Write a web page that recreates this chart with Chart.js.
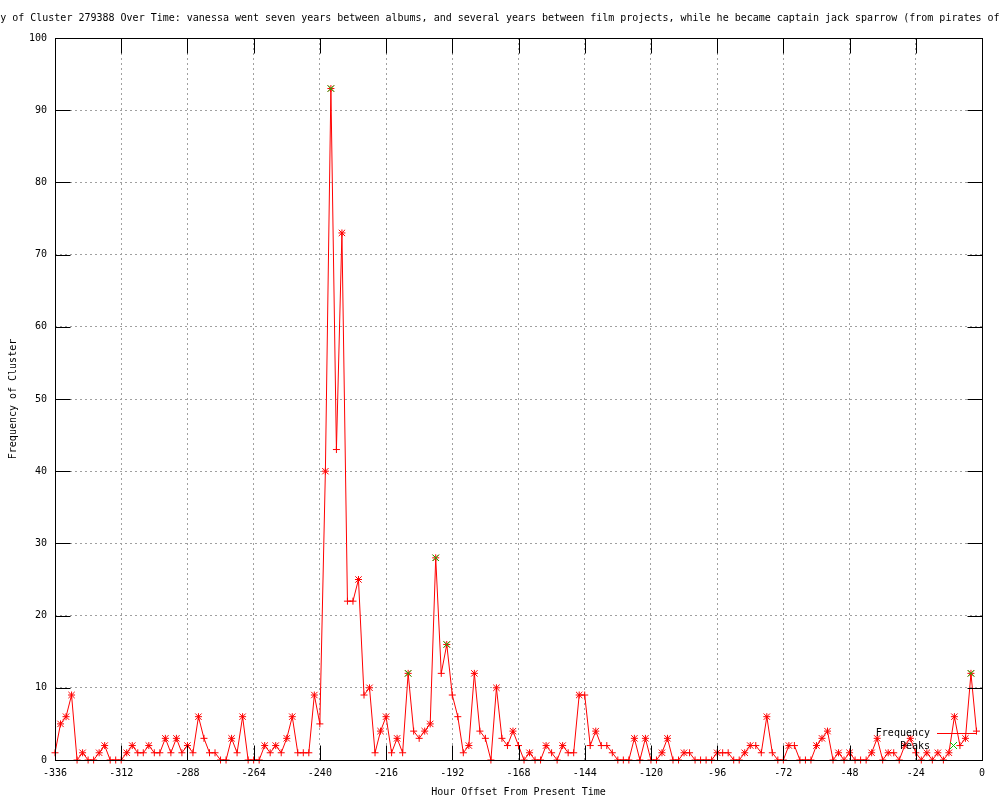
<!DOCTYPE html>
<html>
<head>
<meta charset="utf-8">
<script src="https://cdn.jsdelivr.net/npm/chart.js@4.4.0/dist/chart.umd.min.js"></script>
<style>
  html, body { margin: 0; padding: 0; background: #fff; }
</style>
</head>
<body>
<canvas id="chartContainer" width="1000" height="800"></canvas>
<script>
// Data: one value every 2 hours
const hours = [
  -336, -334, -332, -330, -328, -326, -324, -322, -320, -318, -316, -314,
  -312, -310, -308, -306, -304, -302, -300, -298, -296, -294, -292, -290,
  -288, -286, -284, -282, -280, -278, -276, -274, -272, -270, -268, -266,
  -264, -262, -260, -258, -256, -254, -252, -250, -248, -246, -244, -242,
  -240, -238, -236, -234, -232, -230, -228, -226, -224, -222, -220, -218,
  -216, -214, -212, -210, -208, -206, -204, -202, -200, -198, -196, -194,
  -192, -190, -188, -186, -184, -182, -180, -178, -176, -174, -172, -170,
  -168, -166, -164, -162, -160, -158, -156, -154, -152, -150, -148, -146,
  -144, -142, -140, -138, -136, -134, -132, -130, -128, -126, -124, -122,
  -120, -118, -116, -114, -112, -110, -108, -106, -104, -102, -100, -98,
  -96, -94, -92, -90, -88, -86, -84, -82, -80, -78, -76, -74,
  -72, -70, -68, -66, -64, -62, -60, -58, -56, -54, -52, -50,
  -48, -46, -44, -42, -40, -38, -36, -34, -32, -30, -28, -26,
  -24, -22, -20, -18, -16, -14, -12, -10, -8, -6, -4, -2
];
const frequency = [
  1, 5, 6, 9, 0, 1, 0, 0, 1, 2, 0, 0,
  0, 1, 2, 1, 1, 2, 1, 1, 3, 1, 3, 1,
  2, 1, 6, 3, 1, 1, 0, 0, 3, 1, 6, 0,
  0, 0, 2, 1, 2, 1, 3, 6, 1, 1, 1, 9,
  5, 40, 93, 43, 73, 22, 22, 25, 9, 10, 1, 4,
  6, 1, 3, 1, 12, 4, 3, 4, 5, 28, 12, 16,
  9, 6, 1, 2, 12, 4, 3, 0, 10, 3, 2, 4,
  2, 0, 1, 0, 0, 2, 1, 0, 2, 1, 1, 9,
  9, 2, 4, 2, 2, 1, 0, 0, 0, 3, 0, 3,
  0, 0, 1, 3, 0, 0, 1, 1, 0, 0, 0, 0,
  1, 1, 1, 0, 0, 1, 2, 2, 1, 6, 1, 0,
  0, 2, 2, 0, 0, 0, 2, 3, 4, 0, 1, 0,
  1, 0, 0, 0, 1, 3, 0, 1, 1, 0, 2, 3,
  1, 0, 1, 0, 1, 0, 1, 6, 2, 3, 12, 4
];
const peakHours = [-236, -208, -198, -194, -4];
const peakValues = [93, 12, 28, 16, 12];

const xTicks = [-336, -312, -288, -264, -240, -216, -192, -168, -144, -120, -96, -72, -48, -24, 0];
const yTicks = [0, 10, 20, 30, 40, 50, 60, 70, 80, 90, 100];

const titleText = 'Frequency of Cluster 279388 Over Time: vanessa went seven years between albums, and several years between film projects, while he became captain jack sparrow (from pirates of the caribbean)';
const FONT = 'DejaVu Sans Mono';

// points that rose from the previous hour get the extra diagonal stroke (a "*")
const risingPoints = [];
frequency.forEach((v, i) => {
    if (i > 0 && v > frequency[i - 1]) risingPoints.push({ x: hours[i], y: v });
});

// title, frame, inward ticks and key, gnuplot style
const gnuplotDecor = {
    id: 'gnuplotDecor',
    afterDraw(chart) {
        const ctx = chart.ctx;
        const a = chart.chartArea;
        const xs = chart.scales.x, ys = chart.scales.y;
        ctx.save();
        ctx.fillStyle = '#000';
        ctx.font = '10px "' + FONT + '"';
        ctx.textBaseline = 'middle';
        ctx.textAlign = 'left';
        ctx.fillText(titleText, -48, 18);

        ctx.strokeStyle = '#000';
        ctx.lineWidth = 1;
        const L = Math.round(a.left) + 0.5, R = Math.round(a.right) + 0.5;
        const T = Math.round(a.top) + 0.5, B = Math.round(a.bottom) + 0.5;
        ctx.strokeRect(L, T, R - L, B - T);
        const tl = 15;
        ctx.beginPath();
        xTicks.forEach(v => {
            const px = Math.round(xs.getPixelForValue(v)) + 0.5;
            ctx.moveTo(px, B); ctx.lineTo(px, B - tl);
            ctx.moveTo(px, T); ctx.lineTo(px, T + tl);
        });
        yTicks.forEach(v => {
            const py = Math.round(ys.getPixelForValue(v)) + 0.5;
            ctx.moveTo(L, py); ctx.lineTo(L + tl, py);
            ctx.moveTo(R, py); ctx.lineTo(R - tl, py);
        });
        ctx.stroke();

        // key
        ctx.textAlign = 'right';
        ctx.fillText('Frequency', 930, 733);
        ctx.fillText('Peaks', 930, 746);
        ctx.strokeStyle = '#ff0000';
        ctx.beginPath();
        ctx.moveTo(937, 733.5); ctx.lineTo(977, 733.5);
        ctx.stroke();
        ctx.strokeStyle = '#00c000';
        ctx.beginPath();
        ctx.moveTo(950, 742); ctx.lineTo(957, 749);
        ctx.moveTo(957, 742); ctx.lineTo(950, 749);
        ctx.stroke();
        ctx.restore();
    }
};

const ctx = document.getElementById('chartContainer').getContext('2d');
const chart = new Chart(ctx, {
    type: 'line',
    data: {
        datasets: [
            {
                label: 'Peaks',
                data: peakHours.map((h, i) => ({ x: h, y: peakValues[i] })),
                showLine: false,
                pointStyle: 'crossRot',
                pointRadius: 4.5,
                pointBorderColor: '#00c000',
                pointBorderWidth: 1,
                clip: false,
                order: 1
            },
            {
                label: 'rising',
                data: risingPoints,
                showLine: false,
                pointStyle: 'crossRot',
                pointRadius: 4.5,
                pointBorderColor: '#ff0000',
                pointBorderWidth: 1,
                clip: false,
                order: 2
            },
            {
                label: 'Frequency',
                data: hours.map((h, i) => ({ x: h, y: frequency[i] })),
                borderColor: '#ff0000',
                borderWidth: 1,
                tension: 0,
                pointStyle: 'cross',
                pointRadius: 3.5,
                pointBorderColor: '#ff0000',
                pointBorderWidth: 1,
                clip: false,
                order: 3
            }
        ]
    },
    options: {
        responsive: false,
        animation: false,
        layout: { padding: { left: 0, right: 18, top: 38, bottom: 0 } },
        plugins: {
            legend: { display: false },
            title: { display: false },
            tooltip: { enabled: false }
        },
        scales: {
            x: {
                type: 'linear',
                min: -336,
                max: 0,
                afterFit: s => { s.height = 40; },
                afterBuildTicks: s => { s.ticks = xTicks.map(v => ({ value: v })); },
                ticks: {
                    color: '#000',
                    font: { family: FONT, size: 10 },
                    padding: 7,
                    maxRotation: 0,
                    autoSkip: false,
                    callback: v => String(v)
                },
                grid: { color: '#a0a0a0', lineWidth: 1, drawTicks: false },
                border: { display: false, dash: [2, 3] },
                title: {
                    display: true,
                    text: 'Hour Offset From Present Time',
                    color: '#000',
                    font: { family: FONT, size: 10 },
                    padding: { top: 0, bottom: 2 }
                }
            },
            y: {
                min: 0,
                max: 100,
                afterFit: s => { s.width = 55; },
                afterBuildTicks: s => { s.ticks = yTicks.map(v => ({ value: v })); },
                ticks: {
                    color: '#000',
                    font: { family: FONT, size: 10 },
                    padding: 8,
                    callback: v => String(v)
                },
                grid: { color: '#a0a0a0', lineWidth: 1, drawTicks: false },
                border: { display: false, dash: [2, 3] },
                title: {
                    display: true,
                    text: 'Frequency of Cluster',
                    color: '#000',
                    font: { family: FONT, size: 10 },
                    padding: { top: 7, bottom: 0 }
                }
            }
        }
    },
    plugins: [gnuplotDecor]
});
</script>
</body>
</html>
